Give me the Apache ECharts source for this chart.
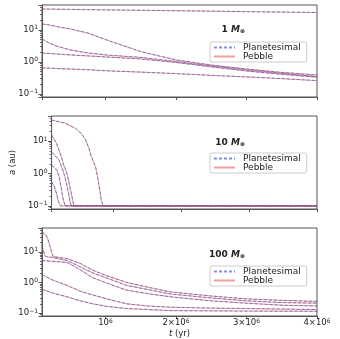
<!DOCTYPE html>
<html>
<head>
<meta charset="utf-8">
<script src="https://cdn.jsdelivr.net/npm/echarts@6/dist/echarts.min.js"></script>
<style>
  html, body { margin: 0; padding: 0; background: #fff; }
  #main { width: 340px; height: 339px; }
</style>
</head>
<body>
<div id="main"></div>
<script>
// panel 1: 1 M_earth  (same time grid for every curve)
var m1T  = [1e5, 2e5, 3e5, 5e5, 7.5e5, 1e6, 1.5e6, 2e6, 2.5e6, 3e6, 3.5e6, 4e6];
var m1A1 = [45, 44.7, 44.4, 43.8, 43.0, 42.3, 41.0, 39.8, 38.5, 37.2, 36.0, 35.0];
var m1A2 = [15.3, 14.3, 12.8, 10.7, 8.0, 5.0, 2.1, 1.15, 0.80, 0.60, 0.47, 0.39];
var m1A3 = [5.2, 3.9, 3.15, 2.37, 1.9, 1.65, 1.38, 1.03, 0.75, 0.56, 0.44, 0.35];
var m1A4 = [1.9, 1.84, 1.77, 1.65, 1.54, 1.43, 1.24, 0.96, 0.70, 0.52, 0.41, 0.33];
var m1A5 = [0.65, 0.64, 0.62, 0.60, 0.57, 0.53, 0.48, 0.43, 0.38, 0.34, 0.30, 0.26];

// panel 2: 10 M_earth
var m10T1 = [1e5, 3e5, 4.5e5, 5.4e5, 6e5, 6.5e5, 6.8e5, 7.2e5, 7.5e5, 7.8e5, 8.1e5, 8.3e5, 8.6e5, 4e6];
var m10A1 = [45, 36, 25, 17, 11, 6.0, 3.5, 2.2, 1.5, 0.7, 0.3, 0.15, 0.1, 0.1];
var m10T2 = [1e5, 1.7e5, 2.1e5, 2.5e5, 2.8e5, 3.1e5, 3.4e5, 3.7e5, 4e5, 4.3e5, 4e6];
var m10A2 = [15.5, 8.8, 5.3, 3.0, 1.8, 1.25, 0.78, 0.38, 0.19, 0.1, 0.1];
var m10T3 = [1e5, 1.5e5, 2.1e5, 2.4e5, 2.7e5, 3.1e5, 3.4e5, 3.7e5, 3.9e5, 4e6];
var m10A3 = [4.6, 3.6, 2.6, 1.8, 1.2, 0.6, 0.3, 0.14, 0.1, 0.1];
var m10T4 = [1e5, 1.4e5, 1.8e5, 2.1e5, 2.4e5, 2.7e5, 3e5, 4e6];
var m10A4 = [1.8, 1.55, 1.25, 0.8, 0.38, 0.16, 0.1, 0.1];
var m10T5 = [1e5, 1.4e5, 1.7e5, 2e5, 2.3e5, 4e6];
var m10A5 = [0.55, 0.4, 0.25, 0.14, 0.1, 0.1];

// panel 3: 100 M_earth
var m100T1 = [1e5, 1.57e5, 1.85e5, 2.13e5, 2.42e5, 2.56e5, 4.55e5, 6.4e5, 8.2e5, 1.02e6, 1.3e6, 1.6e6, 1.92e6, 2.5e6, 3e6, 3.5e6, 4e6];
var m100A1 = [45, 35, 25, 15, 9, 7, 6.0, 4.2, 2.5, 1.65, 1.0, 0.70, 0.49, 0.36, 0.29, 0.26, 0.24];
var m100T2 = [1e5, 1.2e5, 1.4e5, 1.7e5, 2.5e5, 4.55e5, 8.2e5, 1.3e6, 1.92e6, 2.5e6, 3e6, 3.5e6, 4e6];
var m100A2 = [15.3, 11, 7.5, 6.9, 6.5, 5.2, 2.05, 0.80, 0.42, 0.31, 0.25, 0.22, 0.21];
var m100T  = [1e5, 2.5e5, 4.55e5, 6.4e5, 8.2e5, 1.02e6, 1.3e6, 1.6e6, 1.92e6, 2.5e6, 3e6, 3.5e6, 4e6];
var m100A3 = [5.2, 4.9, 4.5, 2.6, 1.43, 0.95, 0.56, 0.43, 0.34, 0.25, 0.21, 0.18, 0.17];
var m100A4 = [1.8, 1.2, 0.8, 0.52, 0.39, 0.29, 0.2, 0.17, 0.155, 0.145, 0.14, 0.135, 0.13];
var m100A5 = [0.6, 0.45, 0.34, 0.25, 0.2, 0.165, 0.14, 0.13, 0.12, 0.118, 0.116, 0.115, 0.115];

var massLabels = ['1', '10', '100'];
var xTickLabels = {1000000: '10', 2000000: '2\u00d710', 3000000: '3\u00d710', 4000000: '4\u00d710'};

var panels = [
  {top: 5, height: 92, legendTop: 42, curves: [[m1T, m1A1], [m1T, m1A2], [m1T, m1A3], [m1T, m1A4], [m1T, m1A5]]},
  {top: 116, height: 93, legendTop: 153, curves: [[m10T1, m10A1], [m10T2, m10A2], [m10T3, m10A3], [m10T4, m10A4], [m10T5, m10A5]]},
  {top: 228, height: 92, legendTop: 266, curves: [[m100T1, m100A1], [m100T2, m100A2], [m100T, m100A3], [m100T, m100A4], [m100T, m100A5]]}
];

var FONT = 'DejaVu Sans';
var supRich = {
  b: {fontFamily: FONT, fontSize: 8.5, color: '#222', lineHeight: 10},
  s: {fontFamily: FONT, fontSize: 6, color: '#222', verticalAlign: 'top', lineHeight: 10, padding: [0, 0, 3, 0]}
};

function yLabel(v) {
  var e = Math.log10(v);
  if (Math.abs(e - Math.round(e)) > 1e-6) return '';
  var n = Math.round(e);
  return '{b|10}{s|' + (n < 0 ? '\u2212' + (-n) : n) + '}';
}
function xLabel(v) {
  var t = xTickLabels[Math.round(v)];
  return t ? '{b|' + t + '}{s|6}' : '';
}

var chart = echarts.init(document.getElementById('main'));

var grids = [], xAxes = [], yAxes = [], legends = [], titles = [], series = [];
panels.forEach(function (p, i) {
  grids.push({left: 42, right: 23, top: p.top, height: p.height, show: true, borderColor: '#555', borderWidth: 1});
  xAxes.push({
    type: 'value', gridIndex: i, min: 1e5, max: 4e6, splitNumber: 4,
    axisLine: {lineStyle: {color: '#555'}},
    axisTick: {length: 3, lineStyle: {color: '#555'}},
    splitLine: {show: false},
    axisLabel: {show: i === 2, showMinLabel: false, margin: 2, formatter: xLabel, rich: supRich},
    name: i === 2 ? '{i|t} (yr)' : '',
    nameLocation: 'middle', nameGap: 13,
    nameTextStyle: {fontFamily: FONT, fontSize: 8.5, color: '#222',
      rich: {i: {fontFamily: FONT, fontStyle: 'italic', fontSize: 8.5, color: '#222'}}}
  });
  yAxes.push({
    type: 'log', logBase: 10, gridIndex: i, min: 0.08, max: 60,
    axisLine: {lineStyle: {color: '#555'}},
    axisTick: {length: 3.5, lineStyle: {color: '#555'}},
    minorTick: {show: true, splitNumber: 9, length: 2, lineStyle: {color: '#666'}},
    splitLine: {show: false},
    axisLabel: {showMinLabel: false, showMaxLabel: false, margin: 4, formatter: yLabel, rich: supRich},
    name: i === 1 ? '{i|a} (au)' : '',
    nameLocation: 'middle', nameGap: 26, nameRotate: 90,
    nameTextStyle: {fontFamily: FONT, fontSize: 8.5, color: '#222',
      rich: {i: {fontFamily: FONT, fontStyle: 'italic', fontSize: 8.5, color: '#222'}}}
  });
  legends.push({
    data: ['Planetesimal', 'Pebble'], orient: 'vertical', left: 210, top: p.legendTop,
    itemWidth: 21, itemHeight: 7, itemGap: 0, padding: [1, 6, 1, 3],
    borderColor: '#ccc', borderWidth: 1, borderRadius: 2, backgroundColor: '#fff',
    selectedMode: false, itemStyle: {opacity: 0},
    textStyle: {fontFamily: FONT, fontSize: 9, color: '#222', padding: [0, 0, 0, 3]}
  });
  titles.push({
    text: '{n|' + massLabels[i] + ' }{m|M}{o|\u2295}',
    right: 95, top: p.top + (i === 0 ? 20 : 22), padding: 0,
    textStyle: {rich: {
      n: {fontFamily: FONT, fontSize: 9, color: '#222'},
      m: {fontFamily: FONT, fontStyle: 'italic', fontSize: 9, color: '#222'},
      o: {fontFamily: FONT, fontSize: 6, color: '#222', verticalAlign: 'bottom', padding: [3, 0, 0, 0]}
    }}
  });
  p.curves.forEach(function (c) {
    var d = c[0].map(function (t, k) { return [t, c[1][k]]; });
    series.push({
      name: 'Pebble', type: 'line', xAxisIndex: i, yAxisIndex: i, data: d,
      symbol: 'none', silent: true, animation: false,
      lineStyle: {color: '#e8504c', width: 1, opacity: 0.55},
      itemStyle: {color: '#e8504c'}
    });
    series.push({
      name: 'Planetesimal', type: 'line', xAxisIndex: i, yAxisIndex: i, data: d,
      symbol: 'none', silent: true, animation: false,
      lineStyle: {color: '#3a55c8', width: 1, type: [3, 2], opacity: 0.65},
      itemStyle: {color: '#3a55c8'}
    });
  });
});

chart.setOption({
  animation: false,
  backgroundColor: '#fff',
  grid: grids, xAxis: xAxes, yAxis: yAxes,
  legend: legends, title: titles, series: series
});
</script>
</body>
</html>
